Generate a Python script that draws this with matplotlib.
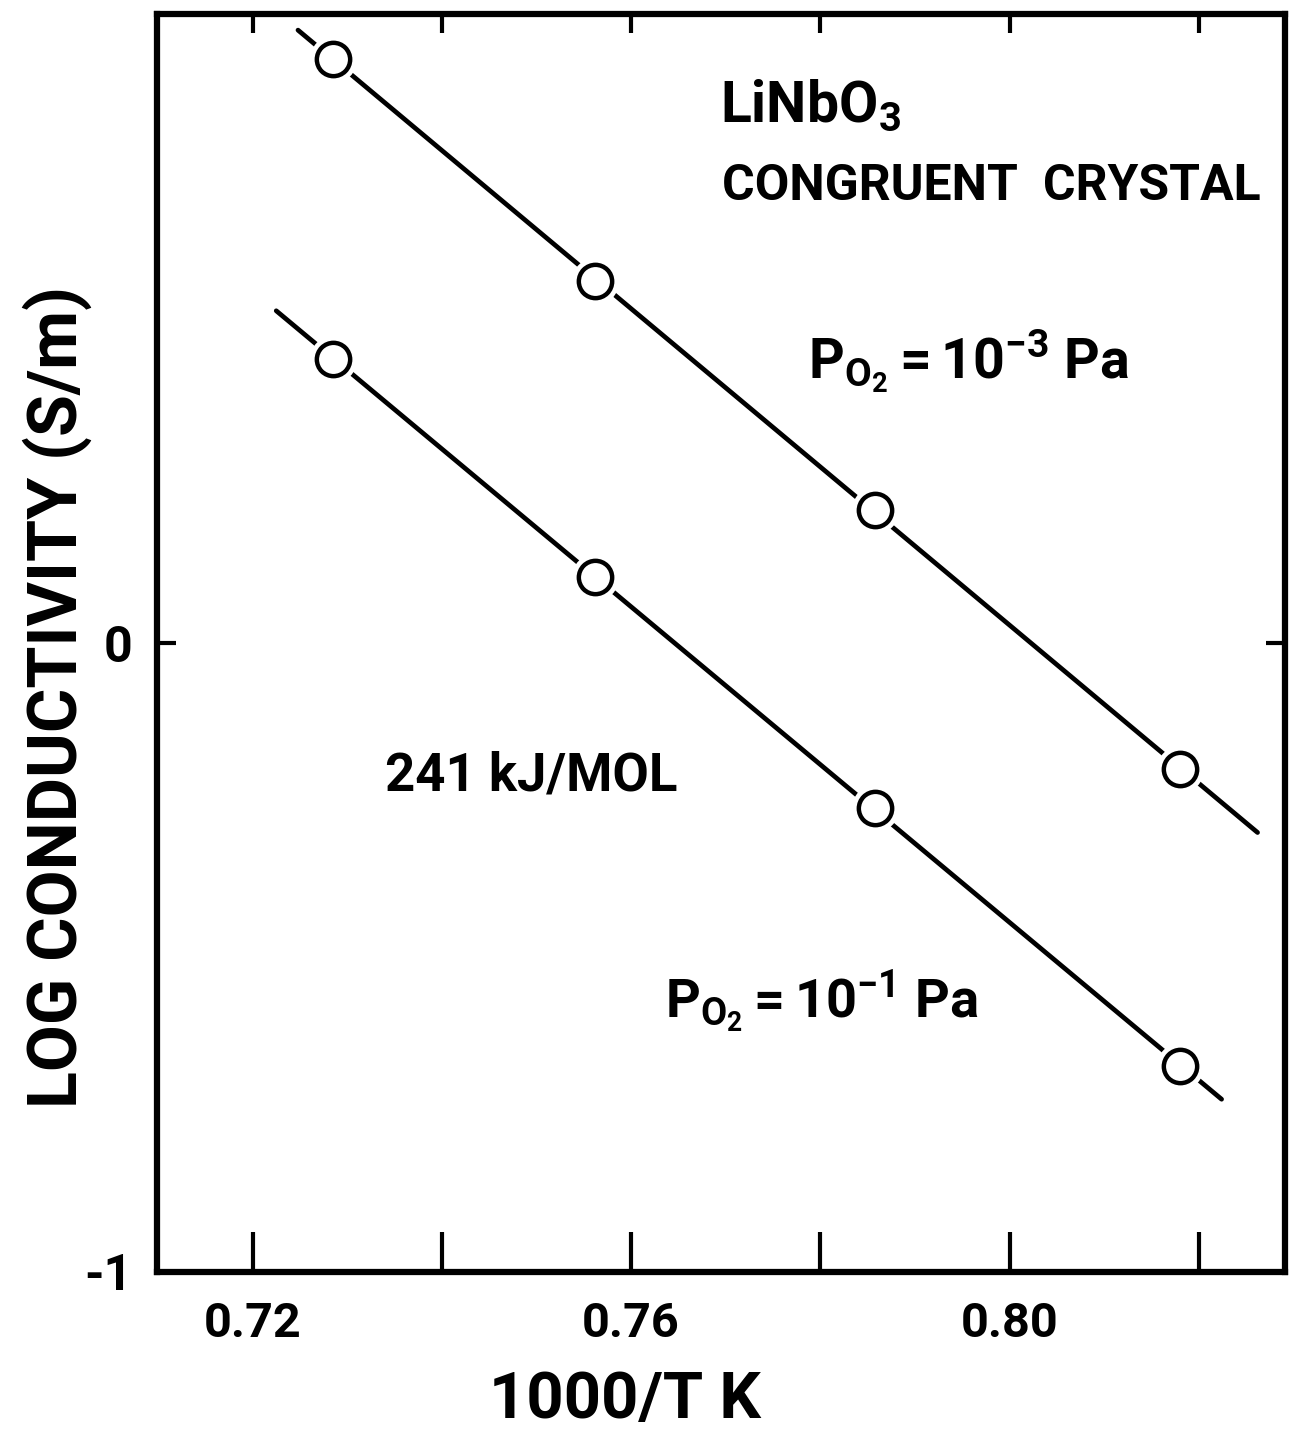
import numpy as np
import matplotlib
matplotlib.use("Agg")
import matplotlib.pyplot as plt

# 1000/T (K^-1) of the measured points
inv_T = [0.7285, 0.7562, 0.7858, 0.8180]
# log conductivity (S/m)
log_sigma_po2_m3 = [0.929, 0.575, 0.212, -0.200]   # PO2 = 1e-3 Pa
log_sigma_po2_m1 = [0.452, 0.105, -0.263, -0.672]  # PO2 = 1e-1 Pa
# x extent of the drawn fit lines
fit_span_m3 = [0.7248, 0.8262]
fit_span_m1 = [0.7225, 0.8224]

x_ticks = [0.72, 0.74, 0.76, 0.78, 0.80, 0.82]
x_ticklabels = ["0.72", "", "0.76", "", "0.80", ""]
y_ticks = [-1, 0, 1]
y_ticklabels = ["-1", "0", ""]

plt.rcParams["font.family"] = ["Roboto", "DejaVu Sans"]
plt.rcParams["font.weight"] = "bold"
plt.rcParams["mathtext.default"] = "regular"

W, H = 1290, 1437
fig = plt.figure(figsize=(W / 100, H / 100), dpi=100)
ax = fig.add_axes([157 / W, 1 - 1272 / H, (1285 - 157) / W, (1272 - 14) / H])


def px(x, y):
    return x / W, 1 - y / H


for ys, span in [(log_sigma_po2_m3, fit_span_m3), (log_sigma_po2_m1, fit_span_m1)]:
    k, b = np.polyfit(inv_T, ys, 1)
    xs = np.array(span)
    ax.plot(xs, k * xs + b, color="black", lw=3.4, solid_capstyle="round", zorder=2)
    # white halo so the line stops short of each circle
    ax.plot(inv_T, ys, ls="none", marker="o", ms=34, mfc="white", mec="none", zorder=3)
    ax.plot(inv_T, ys, ls="none", marker="o", ms=24, mfc="white", mec="black",
            mew=3.2, zorder=4)

ax.set_xlim(0.7099, 0.8291)
ax.set_ylim(-1, 1)
ax.set_xticks(x_ticks)
ax.set_xticklabels(x_ticklabels)
ax.set_yticks(y_ticks)
ax.set_yticklabels(y_ticklabels)

for s in ax.spines.values():
    s.set_linewidth(4.5)

ax.tick_params(axis="x", direction="in", top=True, length=29, width=3,
               labelsize=35, pad=21)
ax.tick_params(axis="y", direction="in", right=True, length=14, width=3,
               labelsize=36, pad=18)
for t in ax.xaxis.get_major_ticks():
    t.tick2line.set_markersize(14)

ax.set_xlabel("1000/T K", fontsize=47, fontweight="bold")
ax.xaxis.set_label_coords((625 - 157) / (1285 - 157), -0.078)
ax.set_ylabel("LOG CONDUCTIVITY (S/m)", fontsize=49, fontweight="bold")
ax.yaxis.set_label_coords(-0.058, (1272 - 697) / (1272 - 14))

fig.text(*px(720, 122), r"LiNbO$_3$", fontsize=41, fontweight="bold", va="baseline")
fig.text(*px(722, 200), "CONGRUENT  CRYSTAL", fontsize=36, fontweight="bold",
         va="baseline")
fig.text(*px(808, 378), r"P$_{O_2}\,$=$\,$10$^{-3}$ Pa", fontsize=40,
         fontweight="bold", va="baseline")
fig.text(*px(385, 790), "241 kJ/MOL", fontsize=38, fontweight="bold", va="baseline")
fig.text(*px(665, 1018), r"P$_{O_2}\,$=$\,$10$^{-1}$ Pa", fontsize=39,
         fontweight="bold", va="baseline")

fig.savefig("out.png", dpi=100)
